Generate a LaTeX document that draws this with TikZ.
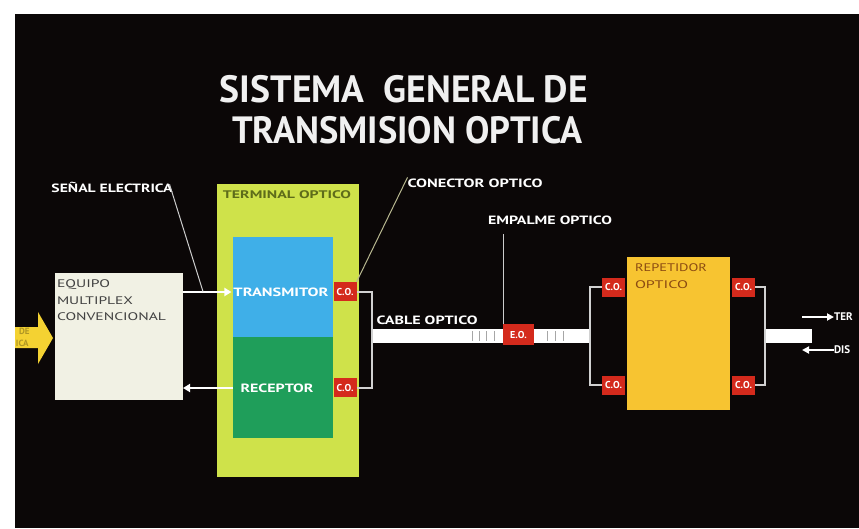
\documentclass[tikz,border=0pt]{standalone}
\usepackage{fontspec}
\setmainfont{PT Sans}
\usetikzlibrary{arrows.meta}
\definecolor{bgc}{HTML}{0B0707}
\definecolor{cream}{HTML}{F1F1E4}
\definecolor{termc}{HTML}{CFE24A}
\definecolor{txc}{HTML}{3FAFE8}
\definecolor{rxc}{HTML}{1F9E5A}
\definecolor{coc}{HTML}{D42A1C}
\definecolor{repc}{HTML}{F7C431}
\definecolor{arrc}{HTML}{F4D232}
\definecolor{leadc}{HTML}{B8B890}
\definecolor{oliv}{HTML}{5E6C1A}
\definecolor{brn}{HTML}{8A4A12}
\newcommand{\hfit}[2]{\resizebox{#1}{\height}{#2}}
\begin{document}
\begin{tikzpicture}[x=1pt,y=-1pt,
  blk/.style={inner sep=0pt, outer sep=0pt, draw=none},
  cobox/.style={blk, fill=coc, minimum width=23pt, minimum height=19pt, text=white, font=\bfseries\fontsize{10}{10}\selectfont},
  lbl/.style={blk, text=white, font=\bfseries\fontsize{12}{12}\selectfont},
  conn/.style={draw=white!82!black, line width=2pt},
  sig/.style={draw=white, line width=2.5pt},
  lead/.style={draw=leadc, line width=1pt}]
\useasboundingbox (0,0) rectangle (859,528);
\fill[white] (0,0) rectangle (859,528);
\fill[bgc] (15,14) rectangle (859,528);
% title
\node[lbl, font=\bfseries\fontsize{38}{40}\selectfont, text=white!94!black] (t1) at (404,89) {\hfit{368pt}{SISTEMA\ \ GENERAL DE}};
\node[lbl, font=\bfseries\fontsize{38}{40}\selectfont, text=white!94!black] (t2) at (407,130) {\hfit{350pt}{TRANSMISION OPTICA}};
% input arrow
\fill[arrc] (15,327) -- (38,327) -- (38,312) -- (53,338) -- (38,364) -- (38,348) -- (15,348) -- cycle;
\node[blk, anchor=west, text=arrc!72!black, font=\bfseries\fontsize{9}{9}\selectfont] (in1) at (19,331) {DE};
\node[blk, anchor=west, text=arrc!72!black, font=\bfseries\fontsize{9}{9}\selectfont] (in2) at (16,343) {ICA};
% equipo
\node[blk, fill=cream, minimum width=128pt, minimum height=127pt] (equipo) at (119,336.5) {};
\node[blk, anchor=west, text=black!75, font=\fontsize{11}{11}\selectfont] (eq1) at (57,285) {\hfit{53pt}{EQUIPO}};
\node[blk, anchor=west, text=black!75, font=\fontsize{11}{11}\selectfont] (eq2) at (57,301) {\hfit{76pt}{MULTIPLEX}};
\node[blk, anchor=west, text=black!75, font=\fontsize{11}{11}\selectfont] (eq3) at (57,317) {\hfit{109pt}{CONVENCIONAL}};
% terminal optico
\node[blk, fill=termc, minimum width=142pt, minimum height=293pt] (term) at (288,330.5) {};
\node[lbl, text=oliv, font=\bfseries\fontsize{11}{11}\selectfont] (terml) at (287,195) {\hfit{128pt}{TERMINAL OPTICO}};
\node[blk, fill=txc, minimum width=100pt, minimum height=100pt] (tx) at (283,287) {};
\node[blk, fill=rxc, minimum width=100pt, minimum height=101pt] (rx) at (283,387.5) {};
\node[lbl] (txl) at (281,292) {\hfit{95pt}{TRANSMITOR}};
\node[lbl] (rxl) at (277,388) {\hfit{73pt}{RECEPTOR}};
\node[cobox] (co1) at (345,291.5) {C.O.};
\node[cobox] (co2) at (345,387.5) {C.O.};
% signals
\draw[sig, -{Triangle[length=7pt,width=8pt]}] (equipo.east |- txl) -- ([xshift=-2pt]txl.west);
\draw[sig, -{Triangle[length=7pt,width=8pt]}] (rx.west |- rxl) -- (equipo.east |- rxl);
% cable
\node[blk, fill=white, minimum width=218pt, minimum height=14pt] (cable) at (481,336) {};
\foreach \xx in {472,479,486,494,547,555,563}
  \draw[black!35, line width=0.8pt] (\xx,331) -- (\xx,341);
\node[blk, fill=coc, minimum width=31pt, minimum height=21pt, text=white, font=\bfseries\fontsize{10}{10}\selectfont] (eo) at (518.5,334.5) {E.O.};
\draw[conn] (co1.east) -| (cable.west);
\draw[conn] (co2.east) -| (cable.west);
\node[lbl] (cablel) at (427,320) {\hfit{101pt}{CABLE OPTICO}};
% repetidor
\node[blk, fill=repc, minimum width=103pt, minimum height=153pt] (rep) at (678.5,333.5) {};
\node[blk, anchor=west, text=brn, font=\fontsize{11}{11}\selectfont] (repl1) at (635,268) {\hfit{72pt}{REPETIDOR}};
\node[blk, anchor=west, text=brn, font=\fontsize{11}{11}\selectfont] (repl2) at (635,285) {\hfit{53pt}{OPTICO}};
\node[cobox] (rco1) at (613.5,287) {C.O.};
\node[cobox] (rco2) at (613.5,385) {C.O.};
\node[cobox] (rco3) at (743.5,287) {C.O.};
\node[cobox] (rco4) at (743.5,385) {C.O.};
\draw[conn] (cable.east) |- (rco1.west);
\draw[conn] (cable.east) |- (rco2.west);
\node[blk, fill=white, minimum width=47pt, minimum height=14pt] (band) at (788.5,336) {};
\draw[conn] (rco3.east) -| (band.west);
\draw[conn] (rco4.east) -| (band.west);
% right arrows
\node[lbl, anchor=west, font=\bfseries\fontsize{11}{11}\selectfont] (ter) at (834,317) {TER};
\node[lbl, anchor=west, font=\bfseries\fontsize{11}{11}\selectfont] (dis) at (834,350) {DIS};
\coordinate (tera) at (802,317);
\coordinate (disa) at (802,350);
\draw[draw=white, line width=1.8pt, -{Triangle[length=7pt,width=7pt]}] (tera) -- (ter.west);
\draw[draw=white, line width=1.8pt, -{Triangle[length=7pt,width=7pt]}] (dis.west) -- (disa);
% labels and leaders
\node[lbl] (senal) at (112,187) {\hfit{121pt}{SEÑAL ELECTRICA}};
\coordinate (senale) at (203,291.5);
\draw[lead, draw=white!80!black] ([xshift=-3pt,yshift=8pt]senal.south east) -- (senale);
\node[lbl] (conector) at (475,183) {\hfit{135pt}{CONECTOR OPTICO}};
\draw[lead] ([yshift=10pt]conector.south west) -- (co1.north east);
\node[lbl] (empalme) at (550,220) {\hfit{124pt}{EMPALME OPTICO}};
\draw[lead, draw=white!80!black] (eo.north west |- empalme.south) ++(0,10) -- (eo.north west);
\end{tikzpicture}
\end{document}
